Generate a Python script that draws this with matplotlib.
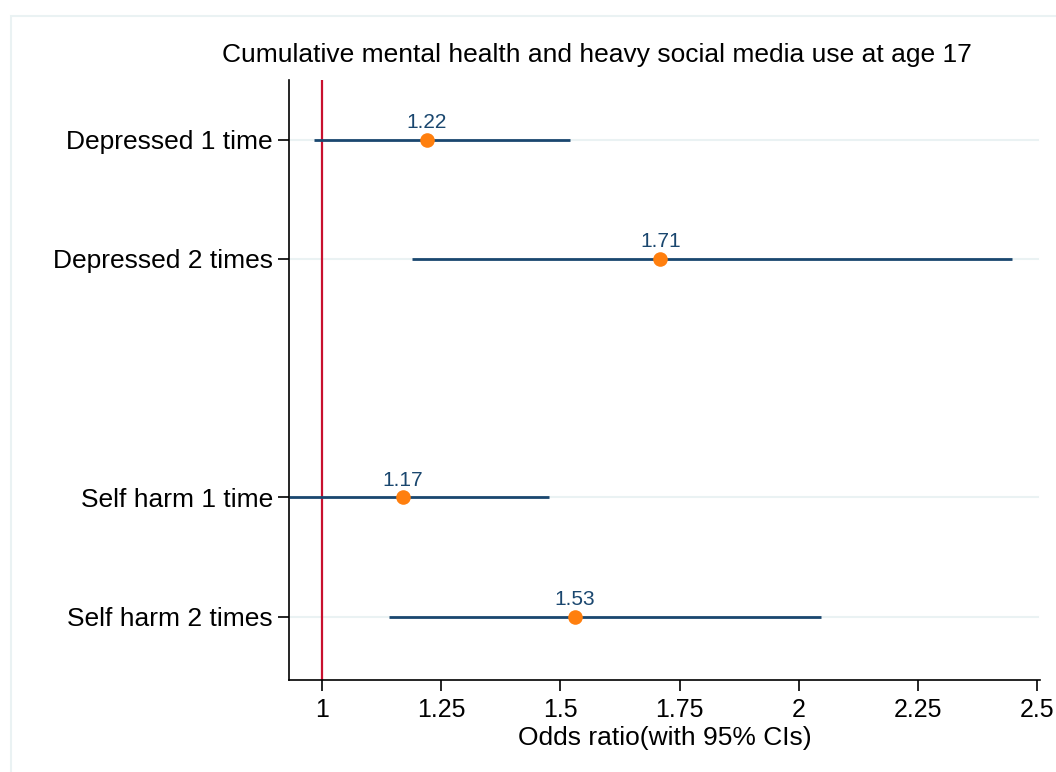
import matplotlib
matplotlib.use("Agg")
import matplotlib.pyplot as plt
from matplotlib.patches import Rectangle

labels = ["Depressed 1 time", "Depressed 2 times", "Self harm 1 time", "Self harm 2 times"]
ypos = [1, 2, 4, 5]
odds = [1.22, 1.71, 1.17, 1.53]
lower = [0.983, 1.19, 0.93, 1.14]
upper = [1.52, 2.447, 1.476, 2.047]
xticks = [1, 1.25, 1.5, 1.75, 2, 2.25, 2.5]
xticklabels = ["1", "1.25", "1.5", "1.75", "2", "2.25", "2.5"]
title = "Cumulative mental health and heavy social media use at age 17"
xlabel = "Odds ratio(with 95% CIs)"

navy = "#1a476f"
orange = "#ff7f0e"
red = "#c8102e"
grid = "#eaf2f3"

plt.rcParams['font.family'] = ['Liberation Sans', 'DejaVu Sans']

W, H = 1056, 772
fig = plt.figure(figsize=(W / 100, H / 100), dpi=100)
fig.patch.set_facecolor("white")
fig.patches.append(Rectangle((11 / W, -0.05), (1070 - 11) / W, 1 - 16 / H + 0.05,
                             transform=fig.transFigure, fill=False,
                             edgecolor=grid, linewidth=1.5))

left, right, top, bottom = 289, 1040, 80, 680
ax = fig.add_axes([left / W, 1 - bottom / H, (right - left) / W, (bottom - top) / H])
ax.set_xlim(0.931, 2.506)
ax.set_ylim(5.53, 0.5)

for y in ypos:
    ax.plot([0.931, 2.502], [y, y], color=grid, lw=1.5, zorder=0, clip_on=False)

ax.axvline(1, color=red, lw=1.6, zorder=1)
ax.hlines(ypos, lower, upper, color=navy, lw=2, zorder=2)
ax.plot(odds, ypos, "o", color=orange, markersize=10.5, markeredgewidth=0, zorder=3)
for x, y in zip(odds, ypos):
    ax.annotate(f"{x:.2f}", (x, y), xytext=(0, 5.5), textcoords="offset points",
                ha="center", va="bottom", color=navy, fontsize=15)

ax.set_yticks(ypos)
ax.set_yticklabels(labels, fontsize=19)
ax.set_xticks(xticks)
ax.set_xticklabels(xticklabels, fontsize=18)
ax.set_xlabel(xlabel, fontsize=19, labelpad=3)
ax.tick_params(axis="both", length=8, width=1.2, color="black")
ax.tick_params(axis="x", pad=5)
ax.tick_params(axis="y", pad=3.5)
for s in ["top", "right"]:
    ax.spines[s].set_visible(False)
for s in ["left", "bottom"]:
    ax.spines[s].set_linewidth(1.2)

fig.text((221 + 972) / 2 / W, 1 - 55 / H, title, ha="center", va="center", fontsize=19)

fig.savefig("out.png", dpi=100)
